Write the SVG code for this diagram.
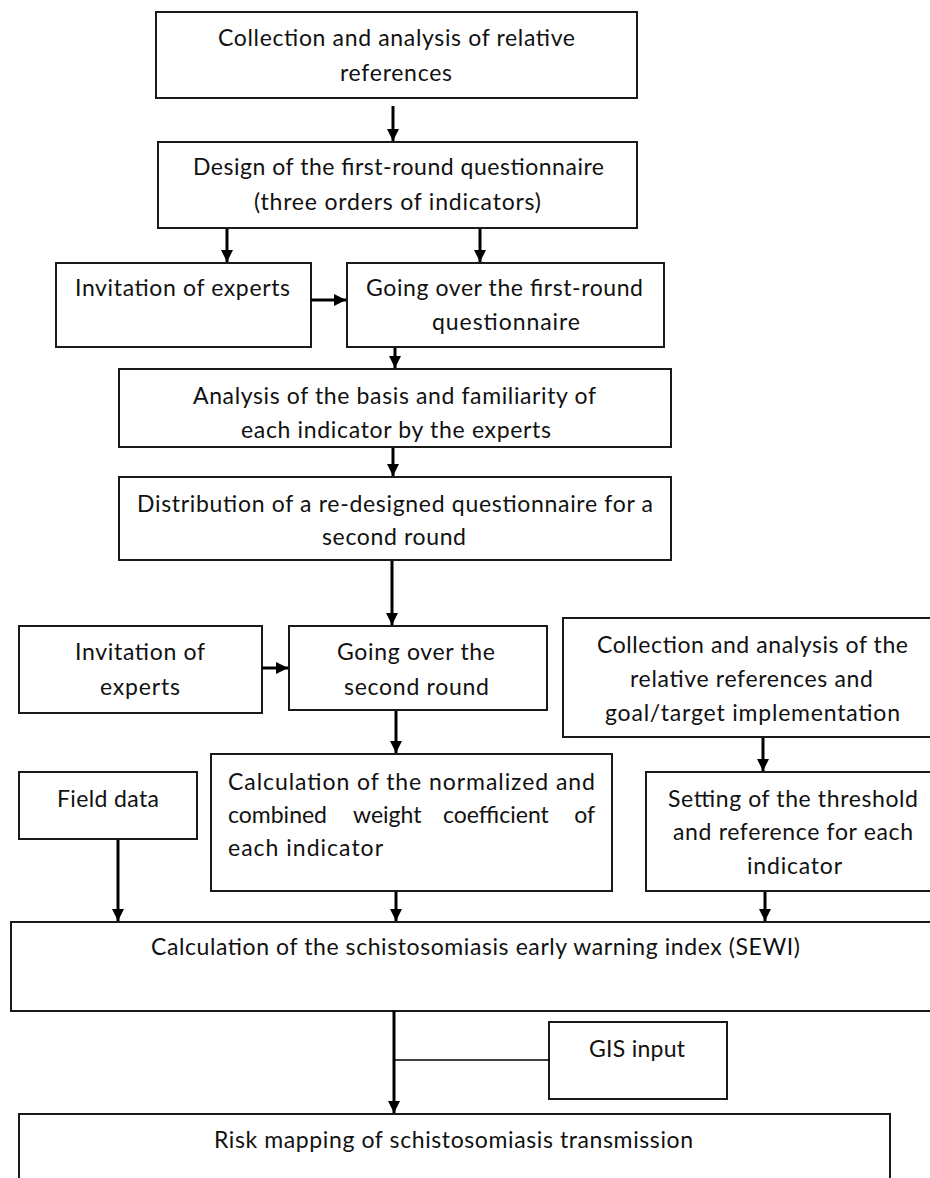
<svg xmlns="http://www.w3.org/2000/svg" width="930" height="1178" viewBox="0 0 930 1178">
<style>
.box{fill:#fff;stroke:#1a1a1a;stroke-width:2}
.t{font-family:Lato,"Open Sans","Liberation Sans",sans-serif;font-size:23px;fill:#111}
.c{text-anchor:middle}
.arr{stroke:#000;stroke-width:3;fill:none;marker-end:url(#ah)}
.ln{stroke:#000;stroke-width:1.6;fill:none}
</style>
<defs>
<marker id="ah" markerUnits="userSpaceOnUse" markerWidth="12" markerHeight="14" viewBox="0 0 12 14" refX="12" refY="7" orient="auto">
<path d="M0,1 L12,7 L0,13 Z" fill="#000"/>
</marker>
</defs>
<rect width="930" height="1178" fill="#fff"/>

<g id="n1">
<rect class="box" x="156" y="12" width="481" height="86"/>
<text class="t" x="218" y="46" textLength="357">Collection and analysis of relative</text>
<text class="t" x="340" y="81" textLength="112">references</text>
</g>
<g id="n2">
<rect class="box" x="158" y="142" width="479" height="86"/>
<text class="t" x="193" y="175" textLength="411">Design of the first-round questionnaire</text>
<text class="t" x="254" y="210" textLength="287">(three orders of indicators)</text>
</g>
<g id="n3">
<rect class="box" x="56" y="263" width="255" height="84"/>
<text class="t" x="75" y="296" textLength="215">Invitation of experts</text>
</g>
<g id="n4">
<rect class="box" x="347" y="263" width="317" height="84"/>
<text class="t" x="366" y="296" textLength="277">Going over the first-round</text>
<text class="t" x="432" y="330" textLength="148">questionnaire</text>
</g>
<g id="n5">
<rect class="box" x="119" y="369" width="552" height="78"/>
<text class="t" x="193" y="404" textLength="403">Analysis of the basis and familiarity of</text>
<text class="t" x="241" y="438" textLength="310">each indicator by the experts</text>
</g>
<g id="n6">
<rect class="box" x="119" y="477" width="552" height="83"/>
<text class="t" x="137" y="512" textLength="516">Distribution of a re-designed questionnaire for a</text>
<text class="t" x="322" y="545" textLength="144">second round</text>
</g>
<g id="n7">
<rect class="box" x="19" y="626" width="243" height="87"/>
<text class="t" x="75" y="660" textLength="130">Invitation of</text>
<text class="t" x="100" y="695" textLength="80">experts</text>
</g>
<g id="n8">
<rect class="box" x="289" y="626" width="258" height="84"/>
<text class="t" x="337" y="660" textLength="158">Going over the</text>
<text class="t" x="344" y="695" textLength="145">second round</text>
</g>
<g id="n9">
<rect class="box" x="563" y="618" width="372" height="119"/>
<text class="t" x="597" y="653" textLength="311">Collection and analysis of the</text>
<text class="t" x="630" y="687" textLength="243">relative references and</text>
<text class="t" x="605" y="721" textLength="295">goal/target implementation</text>
</g>
<g id="n10">
<rect class="box" x="19" y="772" width="178" height="67"/>
<text class="t" x="57" y="807" textLength="102">Field data</text>
</g>
<g id="n11">
<rect class="box" x="211" y="754" width="401" height="137"/>
<text class="t" x="228" y="790" textLength="367">Calculation of the normalized and</text>
<text class="t" x="228" y="823">combined</text>
<text class="t" x="353" y="823">weight</text>
<text class="t" x="443" y="823">coefficient</text>
<text class="t" x="595" y="823" text-anchor="end">of</text>
<text class="t" x="228" y="856" textLength="155">each indicator</text>
</g>
<g id="n12">
<rect class="box" x="646" y="772" width="289" height="119"/>
<text class="t" x="668" y="807" textLength="250">Setting of the threshold</text>
<text class="t" x="673" y="840" textLength="240">and reference for each</text>
<text class="t" x="747" y="874" textLength="95">indicator</text>
</g>
<g id="n13">
<rect class="box" x="11" y="922" width="924" height="89"/>
<text class="t" x="151" y="955" textLength="649">Calculation of the schistosomiasis early warning index (SEWI)</text>
</g>
<g id="n14">
<rect class="box" x="549" y="1022" width="178" height="77"/>
<text class="t" x="589" y="1057" textLength="96">GIS input</text>
</g>
<g id="n15">
<rect class="box" x="19" y="1114" width="871" height="80"/>
<text class="t" x="214" y="1148" textLength="479">Risk mapping of schistosomiasis transmission</text>
</g>

<g id="connectors">
<line class="arr" x1="393" y1="106" x2="393" y2="141"/>
<line class="arr" x1="227" y1="229" x2="227" y2="262"/>
<line class="arr" x1="480" y1="229" x2="480" y2="262"/>
<line class="arr" x1="311" y1="300" x2="346" y2="300"/>
<line class="arr" x1="395" y1="348" x2="395" y2="368"/>
<line class="arr" x1="393" y1="448" x2="393" y2="476"/>
<line class="arr" x1="392" y1="561" x2="392" y2="625"/>
<line class="arr" x1="262" y1="668" x2="288" y2="668"/>
<line class="arr" x1="396" y1="711" x2="396" y2="753"/>
<line class="arr" x1="763" y1="738" x2="763" y2="771"/>
<line class="arr" x1="118" y1="840" x2="118" y2="921"/>
<line class="arr" x1="396" y1="892" x2="396" y2="921"/>
<line class="arr" x1="765" y1="892" x2="765" y2="921"/>
<line class="arr" x1="394" y1="1011" x2="394" y2="1113"/>
<line class="ln" x1="394" y1="1060" x2="549" y2="1060"/>
</g>
</svg>
